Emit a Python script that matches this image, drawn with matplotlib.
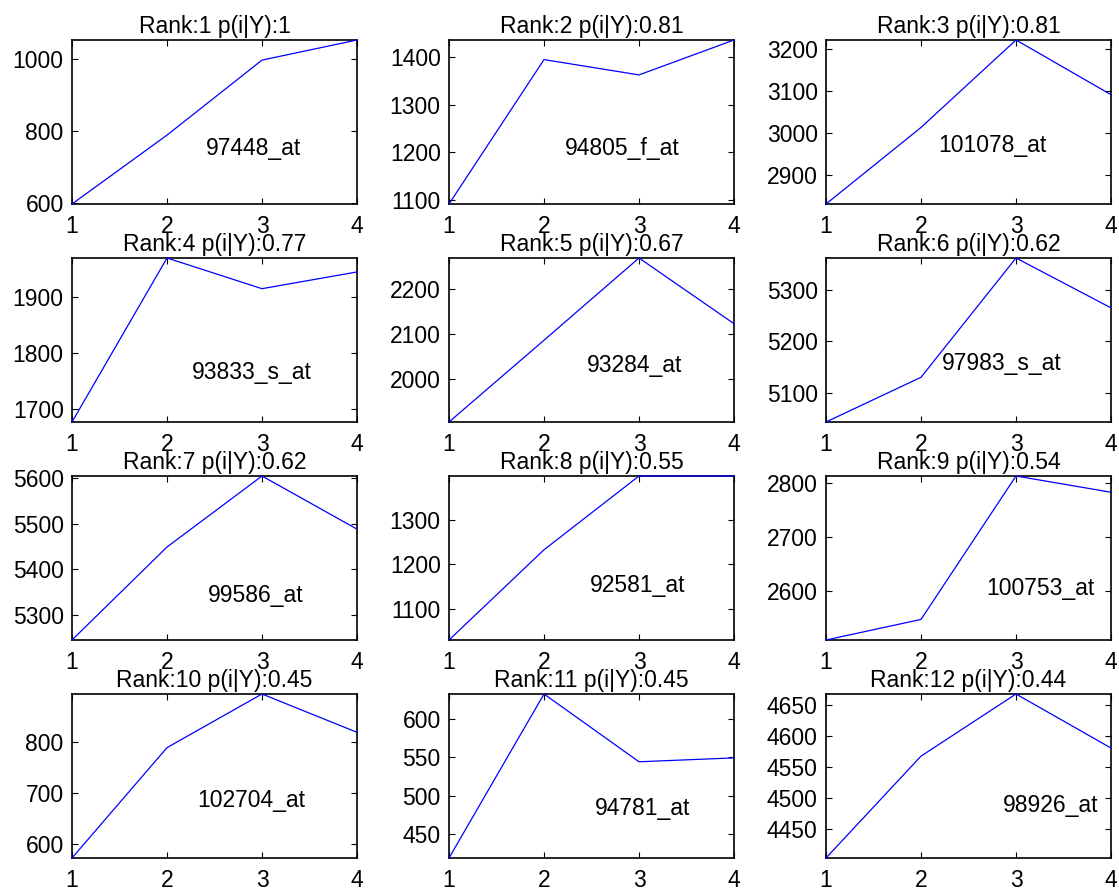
import matplotlib
matplotlib.use('Agg')
import matplotlib.pyplot as plt
from matplotlib.ticker import MultipleLocator

plt.rcParams['font.family'] = ['Liberation Sans', 'DejaVu Sans']

# probe sets ranked by posterior probability
ranks = list(range(1, 13))
probs = ['1', '0.81', '0.81', '0.77', '0.67', '0.62', '0.62', '0.55', '0.54', '0.45', '0.45', '0.44']
probe_ids = ['97448_at', '94805_f_at', '101078_at', '93833_s_at', '93284_at', '97983_s_at',
             '99586_at', '92581_at', '100753_at', '102704_at', '94781_at', '98926_at']

# expression level at time points 1..4
time_points = [1, 2, 3, 4]
expr_1 = [596, 788, 997, 1053]
expr_2 = [1092, 1394, 1362, 1435]
expr_3 = [2832, 3014, 3222, 3092]
expr_4 = [1676, 1970, 1915, 1945]
expr_5 = [1903, 2086, 2270, 2123]
expr_6 = [5043, 5130, 5362, 5265]
expr_7 = [5246, 5449, 5604, 5488]
expr_8 = [1030, 1233, 1399, 1399]
expr_9 = [2510, 2548, 2813, 2783]
expr_10 = [573, 789, 894, 819]
expr_11 = [419, 632, 544, 549]
expr_12 = [4403, 4567, 4667, 4580]
expr = [expr_1, expr_2, expr_3, expr_4, expr_5, expr_6,
        expr_7, expr_8, expr_9, expr_10, expr_11, expr_12]

# y tick spacing per panel
y_step = [200, 100, 100, 100, 100, 100, 100, 100, 100, 100, 50, 50]

# where the probe name sits inside each panel (axes fraction)
label_pos = [(0.469, 0.34), (0.408, 0.34), (0.393, 0.355),
             (0.42, 0.303), (0.485, 0.343), (0.406, 0.354),
             (0.478, 0.274), (0.496, 0.331), (0.561, 0.311),
             (0.44, 0.349), (0.511, 0.299), (0.622, 0.319)]

W, H = 1119, 892
fig = plt.figure(figsize=(W / 100, H / 100), dpi=100)

col_left = [72, 449, 826]
row_top = [40, 258, 476, 694]
ax_w, ax_h = 285, 164
fs = 16.5

for i in range(12):
    r, c = divmod(i, 3)
    ax = fig.add_axes([col_left[c] / W, 1 - (row_top[r] + ax_h) / H, ax_w / W, ax_h / H])
    y = expr[i]
    ax.plot(time_points, y, color='blue', lw=0.9, zorder=3, clip_on=False)
    ax.set_xlim(1, 4)
    ax.set_ylim(min(y), max(y))
    ax.set_xticks(time_points)
    ax.yaxis.set_major_locator(MultipleLocator(y_step[i]))
    ax.tick_params(direction='in', top=True, right=True, length=4, width=0.8,
                   labelsize=fs)
    ax.tick_params(axis='x', pad=8)
    ax.tick_params(axis='y', pad=6)
    for s in ax.spines.values():
        s.set_linewidth(1.2)
    ax.set_title(f'Rank:{ranks[i]} p(i|Y):{probs[i]}', fontsize=fs, pad=5)
    fx, fy = label_pos[i]
    ax.text(fx, fy, probe_ids[i], transform=ax.transAxes, fontsize=fs,
            ha='left', va='center')

fig.savefig('out.png', dpi=100)
